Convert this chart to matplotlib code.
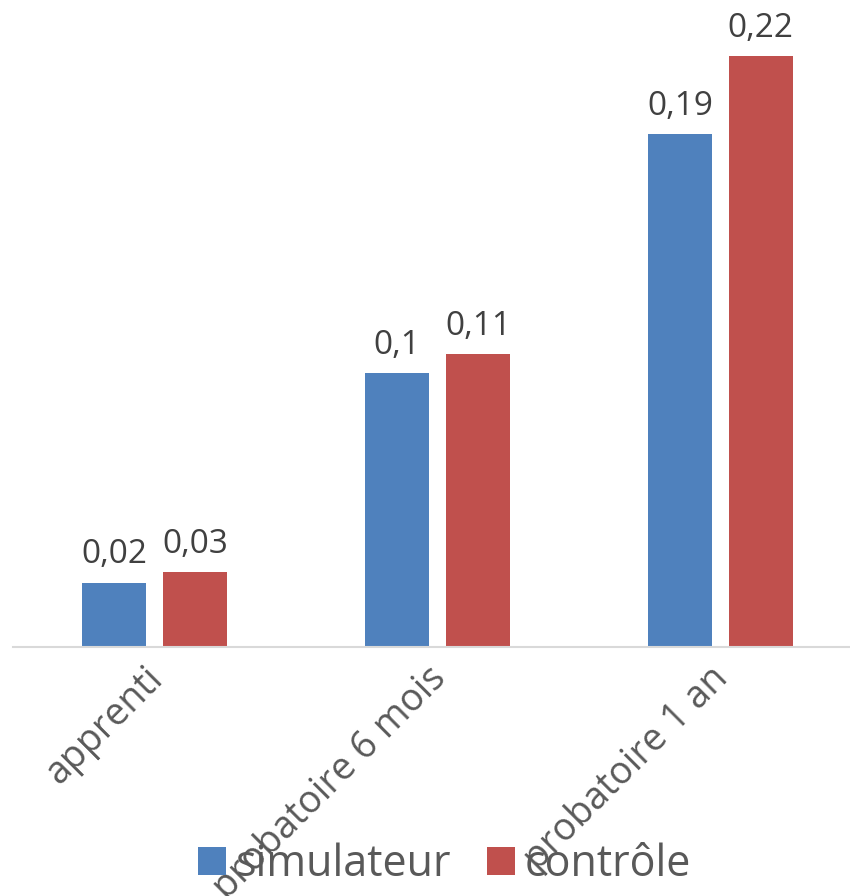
import numpy as np
import matplotlib
matplotlib.use("Agg")
import matplotlib.pyplot as plt
from matplotlib.transforms import ScaledTranslation

# --- Data ---
categories = ["apprenti", "probatoire 6 mois", "probatoire 1 an"]
series_names = ["simulateur", "contrôle"]
simulateur = [0.024, 0.102, 0.191]
controle = [0.028, 0.109, 0.22]
simulateur_labels = ["0,02", "0,1", "0,19"]
controle_labels = ["0,03", "0,11", "0,22"]

BLUE = "#4F81BD"
RED = "#C0504D"

plt.rcParams["font.family"] = ["Open Sans", "DejaVu Sans"]

fig = plt.figure(figsize=(8.5, 8.96), dpi=100)
ax = fig.add_axes([13 / 850, 1 - 647 / 896, 1 - 13 / 850, 647 / 896])

x = np.arange(len(categories))
width = 0.226
offset = 0.143

b1 = ax.bar(x - offset, simulateur, width, color=BLUE, label=series_names[0])
b2 = ax.bar(x + offset, controle, width, color=RED, label=series_names[1])

for bars, labels in [(b1, simulateur_labels), (b2, controle_labels)]:
    for bar, lab in zip(bars, labels):
        ax.annotate(lab, (bar.get_x() + bar.get_width() / 2, bar.get_height()),
                    xytext=(0, 8), textcoords="offset points",
                    ha="center", va="bottom", fontsize=24, color="#404040")

ax.set_xlim(-0.5, 2.458)
ax.set_ylim(0, 0.241)

for side in ["top", "right", "left"]:
    ax.spines[side].set_visible(False)
ax.spines["bottom"].set_color("#D9D9D9")
ax.spines["bottom"].set_linewidth(1.5)
ax.set_yticks([])

ax.set_xticks(x)
ax.set_xticklabels(categories, rotation=45, ha="right", rotation_mode="anchor",
                   fontsize=27, color="#595959")
ax.tick_params(axis="x", length=0, pad=9)
# shift the rotated labels a little left, like the original
shift = ScaledTranslation(-0.11, 0, fig.dpi_scale_trans)
for lab in ax.get_xticklabels():
    lab.set_transform(lab.get_transform() + shift)

fig.legend(handles=[b1, b2], labels=series_names, loc="center",
           bbox_to_anchor=(0.523, 1 - 865 / 896), ncol=2, frameon=False,
           fontsize=31, labelcolor="#595959", handlelength=0.65, handleheight=0.65,
           handletextpad=0.23, columnspacing=0.81, borderpad=0)

fig.savefig("out.png", dpi=100)
